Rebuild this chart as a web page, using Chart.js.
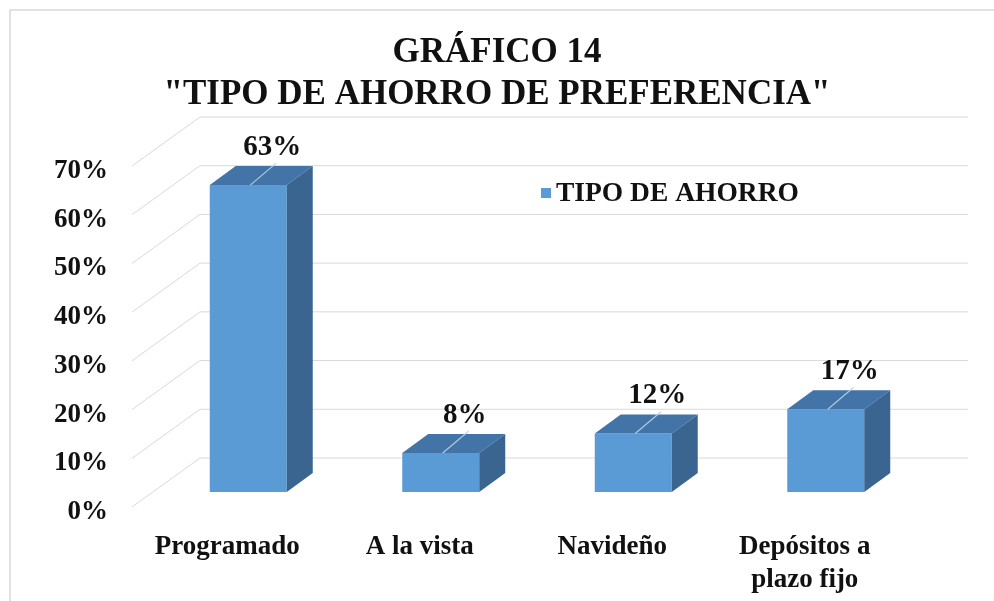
<!DOCTYPE html>
<html>
<head>
<meta charset="utf-8">
<script src="https://cdn.jsdelivr.net/npm/chart.js@4.4.0/dist/chart.umd.min.js"></script>
<style>
  html, body { margin: 0; padding: 0; background: #ffffff; }
  #wrap { width: 994px; height: 601px; position: relative; }
</style>
</head>
<body>
<div id="wrap"><canvas id="c" width="994" height="601"></canvas></div>
<script>
const titleLines = ["GRÁFICO 14", "\"TIPO DE AHORRO DE PREFERENCIA\""];
const categories = ["Programado", "A la vista", "Navideño", ["Depósitos a", "plazo fijo"]];
const seriesName = "TIPO DE AHORRO";
const values = [63, 8, 12, 17];
const yTicks = [0, 10, 20, 30, 40, 50, 60, 70];

const FONT = "'Liberation Serif', 'Times New Roman', serif";
const FRONT = "#5B9BD5";
const TOP = "#4374A8";
const SIDE = "#3A6591";
const GRID = "#d9d9d9";
const TXT = "#111111";
// 3D geometry (pixels)
const DEPTH = { dx: 26, dy: -19 };     // bar depth
const WALL = { dx: 48, dy: -34 };      // bar plane -> back wall
const EDGE = { dx: -20, dy: 15 };      // bar plane -> front floor edge

const threeD = {
  id: 'threeD',
  beforeDraw(chart) {
    const ctx = chart.ctx;
    ctx.save();
    ctx.strokeStyle = GRID;
    ctx.lineWidth = 1.5;
    ctx.beginPath();
    ctx.moveTo(10, chart.height);
    ctx.lineTo(10, 10);
    ctx.lineTo(chart.width, 10);
    ctx.stroke();
    ctx.restore();
  },
  beforeDatasetsDraw(chart) {
    const ctx = chart.ctx, ys = chart.scales.y, area = chart.chartArea;
    ctx.save();
    ctx.strokeStyle = GRID;
    ctx.lineWidth = 1;
    yTicks.forEach(v => {
      const y = ys.getPixelForValue(v);
      ctx.beginPath();
      ctx.moveTo(area.left + EDGE.dx, y + EDGE.dy);
      ctx.lineTo(area.left + WALL.dx, y + WALL.dy);
      ctx.lineTo(area.right + WALL.dx - 2, y + WALL.dy);
      ctx.stroke();
    });
    ctx.restore();
  },
  afterDatasetsDraw(chart) {
    const ctx = chart.ctx;
    const meta = chart.getDatasetMeta(0);
    ctx.save();
    meta.data.forEach((bar, i) => {
      const p = bar.getProps(['x', 'y', 'base', 'width'], true);
      const x0 = p.x - p.width / 2, x1 = p.x + p.width / 2;
      const yt = p.y, yb = p.base;
      // top face
      ctx.fillStyle = TOP;
      ctx.beginPath();
      ctx.moveTo(x0, yt);
      ctx.lineTo(x1, yt);
      ctx.lineTo(x1 + DEPTH.dx, yt + DEPTH.dy);
      ctx.lineTo(x0 + DEPTH.dx, yt + DEPTH.dy);
      ctx.closePath();
      ctx.fill();
      // side face
      ctx.fillStyle = SIDE;
      ctx.beginPath();
      ctx.moveTo(x1, yt);
      ctx.lineTo(x1 + DEPTH.dx, yt + DEPTH.dy);
      ctx.lineTo(x1 + DEPTH.dx, yb + DEPTH.dy);
      ctx.lineTo(x1, yb);
      ctx.closePath();
      ctx.fill();
      // leader line
      ctx.strokeStyle = "rgba(190,210,230,0.9)";
      ctx.lineWidth = 1.2;
      ctx.beginPath();
      ctx.moveTo(p.x + 2, yt);
      ctx.lineTo(p.x + 2 + DEPTH.dx, yt + DEPTH.dy - 3);
      ctx.stroke();
      // value label
      ctx.fillStyle = TXT;
      ctx.font = "bold 29px " + FONT;
      ctx.textAlign = "center";
      ctx.textBaseline = "middle";
      ctx.fillText(values[i] + "%", p.x + 24, yt - 38);
    });
    // legend
    const ds = chart.data.datasets[0];
    ctx.fillStyle = ds.backgroundColor;
    ctx.fillRect(541, 188, 10, 10);
    ctx.fillStyle = TXT;
    ctx.font = "bold 27.5px " + FONT;
    ctx.textAlign = "left";
    ctx.textBaseline = "middle";
    ctx.fillText(ds.label, 556, 194);
    ctx.restore();
  }
};

new Chart(document.getElementById('c'), {
  type: 'bar',
  data: {
    labels: categories,
    datasets: [{
      label: seriesName,
      data: values,
      backgroundColor: FRONT,
      borderWidth: 0,
      barPercentage: 0.4,
      categoryPercentage: 1.0
    }]
  },
  options: {
    responsive: false,
    animation: false,
    devicePixelRatio: 1,
    layout: { padding: { left: 0, right: 0, top: 0, bottom: 0 } },
    plugins: {
      legend: { display: false },
      tooltip: { enabled: false },
      title: {
        display: true,
        text: titleLines,
        color: TXT,
        font: { family: FONT, size: 35, weight: 'bold', lineHeight: 1.2 },
        padding: { top: 32, bottom: 35 }
      }
    },
    scales: {
      x: {
        grid: { display: false, drawTicks: false },
        border: { display: false },
        ticks: {
          color: TXT,
          font: { family: FONT, size: 27, weight: 'bold', lineHeight: 1.2 },
          padding: 39,
          labelOffset: -21,
          maxRotation: 0,
          autoSkip: false
        },
        afterFit(s) { s.height = 109; }
      },
      y: {
        min: 0, max: 70,
        grid: { display: false, drawTicks: false },
        border: { display: false },
        ticks: {
          stepSize: 10,
          color: TXT,
          font: { family: FONT, size: 27, weight: 'bold' },
          padding: 44,
          labelOffset: 20,
          callback: v => v + '%'
        },
        afterFit(s) { s.width = 152; }
      },
      yRight: {
        position: 'right',
        min: 0, max: 70,
        grid: { display: false, drawTicks: false },
        border: { display: false },
        ticks: { display: false },
        afterFit(s) { s.width = 72; }
      }
    }
  },
  plugins: [threeD]
});
</script>
</body>
</html>
